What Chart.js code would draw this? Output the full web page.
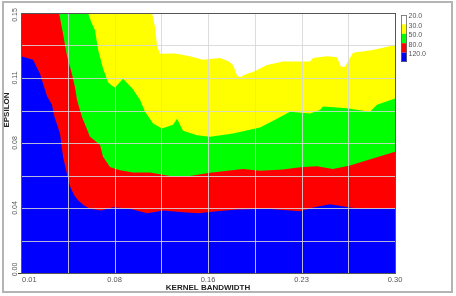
<!DOCTYPE html>
<html><head><meta charset="utf-8">
<script src="https://cdn.jsdelivr.net/npm/chart.js@4/dist/chart.umd.min.js"></script>
<style>html,body{margin:0;padding:0;background:#fff;overflow:hidden}#wrap{width:456px;height:296px;position:relative}</style>
</head><body><div id="wrap"><canvas id="c" width="456" height="296"></canvas></div>
<script>
// Tick labels
const xTickLabels = ['0.01','0.08','0.16','0.23','0.30'];
const yTickLabels = ['0.00','0.04','0.08','0.11','0.15'];
const xTitle = 'KERNEL BANDWIDTH';
const yTitle = 'EPSILON';
// Legend (contour levels)
const legendLabels = ['20.0','30.0','50.0','80.0','120.0'];
const legendColors = ['#ffffff','#ffff00','#00ff00','#ff0000','#0000ff'];

// Contour boundaries: kernel bandwidth (x) vs epsilon (y)
const blueX = [0.0100,0.0193,0.0247,0.0302,0.0340,0.0356,0.0402,0.0426,0.0457,0.0480,0.0511,0.0542,0.0589,0.0635,0.0720,0.0813,0.0945,0.1077,0.1201,0.1356,0.1472,0.1620,0.1775,0.2007,0.2263,0.2364,0.2496,0.2651,0.2729,0.3000];
const blueY = [0.125,0.123,0.115,0.102,0.097,0.091,0.0805,0.067,0.057,0.050,0.045,0.042,0.039,0.037,0.036,0.038,0.037,0.0345,0.036,0.035,0.0345,0.0356,0.0366,0.037,0.0356,0.0378,0.0397,0.0378,0.0372,0.0372];

const redX = [0.0100,0.0395,0.0426,0.0457,0.0495,0.0519,0.0534,0.0573,0.0635,0.0713,0.0736,0.0790,0.0868,0.0968,0.1100,0.1255,0.1410,0.1566,0.1821,0.1953,0.2132,0.2263,0.2395,0.2519,0.2651,0.2783,0.3000];
const redY = [0.15,0.15,0.138,0.125,0.115,0.107,0.100,0.090,0.0786,0.0738,0.067,0.0612,0.0593,0.058,0.058,0.056,0.056,0.0578,0.060,0.059,0.0597,0.061,0.0616,0.060,0.062,0.065,0.070];

const greenX = [0.0100,0.0620,0.0643,0.0674,0.0697,0.0736,0.0775,0.0806,0.0829,0.0891,0.0968,0.1023,0.1062,0.1124,0.1193,0.1279,0.1310,0.1356,0.1465,0.1566,0.1744,0.1953,0.2085,0.2186,0.2341,0.2418,0.2442,0.2628,0.2806,0.2860,0.3000];
const greenY = [0.15,0.15,0.145,0.140,0.129,0.118,0.110,0.108,0.107,0.112,0.106,0.0998,0.093,0.0863,0.0834,0.0855,0.089,0.082,0.0795,0.0786,0.0805,0.084,0.089,0.093,0.092,0.094,0.096,0.095,0.093,0.097,0.1007];

const yellowX = [0.0100,0.1116,0.1139,0.1155,0.1178,0.1294,0.1410,0.1511,0.1643,0.1713,0.1744,0.1775,0.1798,0.1852,0.1899,0.2007,0.2132,0.2341,0.2364,0.2473,0.2550,0.2581,0.2612,0.2643,0.2674,0.2829,0.3000];
const yellowY = [0.15,0.15,0.142,0.131,0.1265,0.1267,0.125,0.123,0.124,0.122,0.120,0.114,0.113,0.115,0.116,0.120,0.122,0.122,0.124,0.125,0.1245,0.119,0.119,0.123,0.127,0.1286,0.1315];

const X_MIN = 0.01, X_MAX = 0.30, Y_MIN = 0, Y_MAX = 0.15;

function pts(xs, ys){ return xs.map((x,i)=>({x:x, y:ys[i]})); }
function ds(xs, ys, color, order){
  return {data: pts(xs, ys), backgroundColor: color, borderColor: color, borderWidth: 0,
    pointRadius: 0, fill: 'origin', tension: 0, order: order};
}

const overlay = {
  id: 'overlay',
  afterDatasetsDraw(chart){
    const ctx = chart.ctx, a = chart.chartArea, xs = chart.scales.x, ys = chart.scales.y;
    ctx.save();
    // grid lines on top of the filled contours
    ctx.strokeStyle = 'rgba(215,215,215,0.85)';
    ctx.lineWidth = 1;
    for (let k = 1; k < 8; k++){
      const xv = X_MIN + (X_MAX - X_MIN) * k / 8;
      const px = Math.round(xs.getPixelForValue(xv)) + 0.5;
      ctx.beginPath(); ctx.moveTo(px, a.top); ctx.lineTo(px, a.bottom); ctx.stroke();
      const yv = Y_MIN + (Y_MAX - Y_MIN) * k / 8;
      const py = Math.round(ys.getPixelForValue(yv)) + 0.5;
      ctx.beginPath(); ctx.moveTo(a.left, py); ctx.lineTo(a.right, py); ctx.stroke();
    }
    // plot border
    ctx.strokeStyle = '#555';
    ctx.strokeRect(Math.round(a.left)+0.5, Math.round(a.top)+0.5, Math.round(a.right-a.left), Math.round(a.bottom-a.top));
    // x tick labels
    ctx.fillStyle = '#555';
    ctx.font = '7.5px "Liberation Sans", Arial, sans-serif';
    ctx.textBaseline = 'middle';
    xTickLabels.forEach((t, i) => {
      const v = X_MIN + (X_MAX - X_MIN) * i / (xTickLabels.length - 1);
      const px = xs.getPixelForValue(v);
      if (i === 0){ ctx.textAlign = 'left'; ctx.fillText(t, px + 1, a.bottom + 7); }
      else { ctx.textAlign = 'center'; ctx.fillText(t, px, a.bottom + 7); }
    });
    // y tick labels (rotated)
    ctx.font = '7px "Liberation Sans", Arial, sans-serif';
    yTickLabels.forEach((t, i) => {
      const v = Y_MIN + (Y_MAX - Y_MIN) * i / (yTickLabels.length - 1);
      let py = ys.getPixelForValue(v);
      if (i === 0) py -= 3.5;
      if (i === yTickLabels.length - 1) py += 2;
      ctx.save(); ctx.translate(a.left - 5.5, py); ctx.rotate(-Math.PI/2);
      ctx.textAlign = 'center'; ctx.textBaseline = 'middle'; ctx.fillText(t, 0, 0); ctx.restore();
    });
    // small tick marks at origin
    ctx.strokeStyle = '#333';
    ctx.beginPath(); ctx.moveTo(a.left - 3, Math.round(a.bottom)+0.5); ctx.lineTo(a.left, Math.round(a.bottom)+0.5); ctx.stroke();
    // axis titles
    ctx.fillStyle = '#222';
    ctx.font = 'bold 8px "Liberation Sans", Arial, sans-serif';
    ctx.textAlign = 'center'; ctx.textBaseline = 'middle';
    ctx.fillText(xTitle, (a.left + a.right) / 2, a.bottom + 15);
    ctx.save(); ctx.translate(6.5, 110); ctx.rotate(-Math.PI/2); ctx.fillText(yTitle, 0, 0); ctx.restore();
    // legend
    const lx = a.right + 6, ly = 15, lw = 6, lh = 9.4;
    legendColors.forEach((c, i) => {
      ctx.fillStyle = c; ctx.fillRect(lx, ly + i*lh, lw, lh);
    });
    ctx.strokeStyle = '#666'; ctx.lineWidth = 0.8;
    ctx.strokeRect(lx + 0.5, ly + 0.5, lw - 1, lh * legendColors.length - 1);
    ctx.fillStyle = '#555';
    ctx.font = '7px "Liberation Sans", Arial, sans-serif';
    ctx.textAlign = 'left'; ctx.textBaseline = 'middle';
    legendLabels.forEach((t, i) => { ctx.fillText(t, lx + lw + 1.5, ly + 1.5 + i*lh); });
    // outer frame
    ctx.strokeStyle = '#b4b4b4'; ctx.lineWidth = 2;
    ctx.strokeRect(3, 2, 449, 290);
    ctx.restore();
  }
};

new Chart(document.getElementById('c'), {
  type: 'line',
  data: { datasets: [
    ds(blueX, blueY, '#0000ff', 1),
    ds(redX, redY, '#ff0000', 2),
    ds(greenX, greenY, '#00ff00', 3),
    ds(yellowX, yellowY, '#ffff00', 4)
  ]},
  options: {
    responsive: false, animation: false, devicePixelRatio: 1,
    layout: { padding: { left: 0, top: 13, right: 61, bottom: 0 } },
    plugins: { legend: { display: false }, tooltip: { enabled: false } },
    scales: {
      x: { type: 'linear', min: X_MIN, max: X_MAX, grid: { display: false }, border: { display: false },
           ticks: { display: false }, afterFit: s => { s.height = 23; } },
      y: { type: 'linear', min: Y_MIN, max: Y_MAX, grid: { display: false }, border: { display: false },
           ticks: { display: false }, afterFit: s => { s.width = 21; } }
    }
  },
  plugins: [overlay]
});
</script></body></html>
